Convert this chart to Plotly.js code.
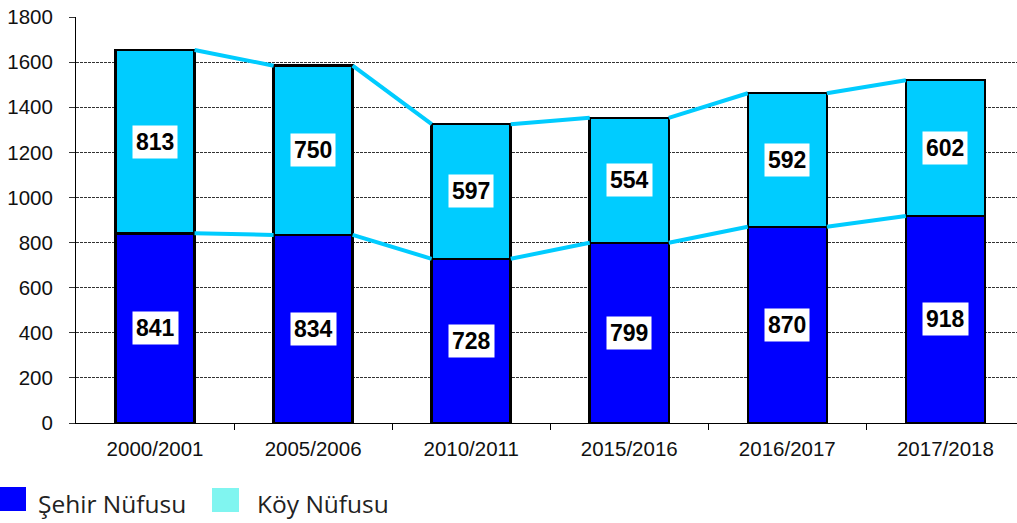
<!DOCTYPE html>
<html><head><meta charset="utf-8">
<script src="https://cdn.plot.ly/plotly-3.0.1.min.js"></script>
<style>html,body{margin:0;padding:0;background:#fff}#chart{width:1017px;height:523px}</style>
</head><body><div id="chart"></div>
<script>
const categories = ["2000/2001","2005/2006","2010/2011","2015/2016","2016/2017","2017/2018"];
const sehir = [841, 834, 728, 799, 870, 918];
const koy = [813, 750, 597, 554, 592, 602];
const seriesNames = ["Şehir Nüfusu", "Köy Nüfusu"];

const idx = categories.map((c,i)=>i);
const totals = sehir.map((v,i)=>v+koy[i]);
const BW = 0.5;
const cBlue = "#0000FF", cCyan = "#00CCFF", cLine = "#00CCFF";

const traces = [
  {type:"bar", x:idx, y:sehir, width:BW, name:seriesNames[0], marker:{color:cBlue, line:{color:"#000", width:2.5}}, hoverinfo:"skip"},
  {type:"bar", x:idx, y:koy, width:BW, name:seriesNames[1], marker:{color:cCyan, line:{color:"#000", width:2.5}}, hoverinfo:"skip"}
];
function seriesLine(vals){
  const xs=[], ys=[];
  for(let i=0;i<vals.length-1;i++){
    xs.push(i+BW/2, i+1-BW/2, null);
    ys.push(vals[i], vals[i+1], null);
  }
  return {type:"scatter", mode:"lines", x:xs, y:ys, line:{color:cLine, width:4}, showlegend:false, hoverinfo:"skip", connectgaps:false};
}
traces.push(seriesLine(sehir), seriesLine(totals));

const annotations = [];
const labFont = {family:"Liberation Sans, Arial", size:23, color:"#000"};
idx.forEach(i=>{
  annotations.push({x:i, y:sehir[i]/2, text:"<b>"+sehir[i]+"</b>", showarrow:false, bgcolor:"#fff", borderpad:3, font:labFont});
  annotations.push({x:i, y:sehir[i]+koy[i]/2, text:"<b>"+koy[i]+"</b>", showarrow:false, bgcolor:"#fff", borderpad:3, font:labFont});
});

const L=76, T=17, W=941, H=406;
const px = p => (p-L)/W, py = p => (T+H-p)/H;
const shapes = [
  {type:"rect", xref:"paper", yref:"paper", x0:px(0), x1:px(26), y0:py(511), y1:py(487), fillcolor:"#0000FF", line:{width:0}},
  {type:"rect", xref:"paper", yref:"paper", x0:px(212), x1:px(239), y0:py(512), y1:py(488), fillcolor:"#80F5F0", line:{width:0}}
];
const legFont = {family:"Open Sans", size:24.5, color:"#222"};
annotations.push({xref:"paper", yref:"paper", x:px(36), y:py(503), xanchor:"left", yanchor:"middle", text:seriesNames[0], showarrow:false, font:legFont});
annotations.push({xref:"paper", yref:"paper", x:px(255), y:py(503), xanchor:"left", yanchor:"middle", text:seriesNames[1], showarrow:false, font:legFont});

const layout = {
  width:1017, height:523,
  margin:{l:L, r:0, t:T, b:100},
  paper_bgcolor:"#fff", plot_bgcolor:"#fff",
  barmode:"stack",
  showlegend:false,
  font:{family:"Liberation Sans, Arial", size:20.5, color:"#000"},
  xaxis:{
    range:[-0.5, 5.453], tickmode:"array", tickvals:idx, ticktext:categories,
    ticks:"", showgrid:false, zeroline:false,
    showline:true, linecolor:"#000", linewidth:1,
    minor:{tickmode:"array", tickvals:[0.5,1.5,2.5,3.5,4.5], ticks:"outside", ticklen:6, tickcolor:"#000", tickwidth:1, showgrid:false},
    ticklabelstandoff:7,
    tickfont:{size:20.5, color:"#111"}
  },
  yaxis:{
    range:[0,1800], tickmode:"linear", tick0:0, dtick:200,
    showgrid:true, gridcolor:"#333", gridwidth:1, griddash:"3px,1px",
    zeroline:false, showline:true, linecolor:"#000", linewidth:1,
    ticks:"outside", ticklen:6, tickcolor:"#333",
    ticklabelstandoff:12,
    tickfont:{size:20.5, color:"#111"}
  },
  shapes:shapes,
  annotations:annotations
};
Plotly.newPlot("chart", traces, layout, {displayModeBar:false, staticPlot:true});
</script></body></html>
